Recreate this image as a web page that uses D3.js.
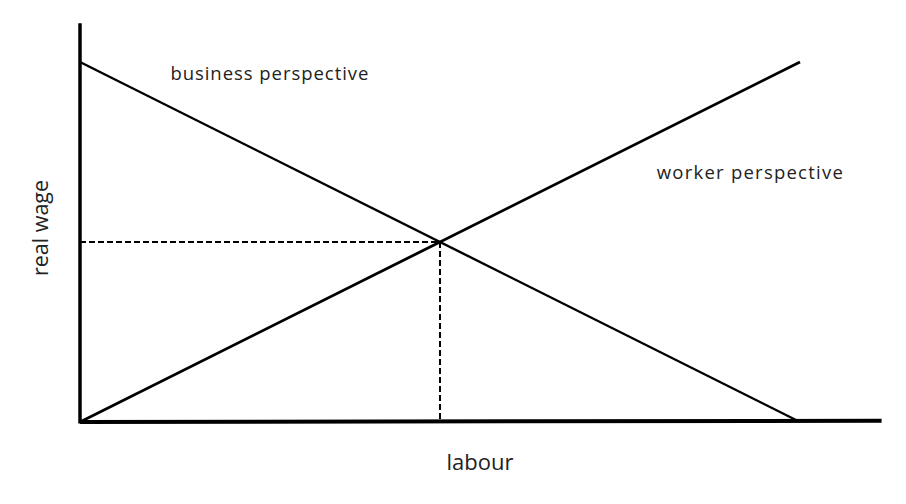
<!DOCTYPE html>
<html><head><meta charset="utf-8">
<script src="https://cdn.jsdelivr.net/npm/d3@7"></script>
<style>body{margin:0;background:#fff}svg{display:block}</style>
</head><body>
<svg id="c" width="906" height="504"></svg>
<script>
const businessLine = [[0, 90], [90, 0]];
const workerLine = [[0, 0], [90, 90]];
const equilibrium = [45, 45];
const axisLabels = {x: "labour", y: "real wage"};
const curveLabels = [
  {text: "business perspective", x: 11.3, y: 85.5, w: 198},
  {text: "worker perspective", x: 72.1, y: 60.8, w: 186}
];

const svg = d3.select("#c");
const x = d3.scaleLinear().domain([0, 100]).range([80, 880]);
const y = d3.scaleLinear().domain([0, 100]).range([422, 22]);
const line = d3.line().x(d => x(d[0])).y(d => y(d[1]));

// dashed guides
svg.append("path").attr("d", line([[0, equilibrium[1]], equilibrium]))
  .attr("fill", "none").attr("stroke", "#000").attr("stroke-width", 2).attr("stroke-dasharray", "6,3");
svg.append("path").attr("d", line([equilibrium, [equilibrium[0], 0]]))
  .attr("fill", "none").attr("stroke", "#000").attr("stroke-width", 2).attr("stroke-dasharray", "6,3");

// curves
svg.append("path").attr("d", line(businessLine)).attr("fill", "none").attr("stroke", "#000").attr("stroke-width", 2.4);
svg.append("path").attr("d", line(workerLine)).attr("fill", "none").attr("stroke", "#000").attr("stroke-width", 2.8);

// axes
svg.append("line").attr("x1", x(0)).attr("x2", x(0)).attr("y1", y(0) + 1.5).attr("y2", y(99.7))
  .attr("stroke", "#000").attr("stroke-width", 3.5);
svg.append("line").attr("x1", x(0)).attr("x2", x(100.2)).attr("y1", y(0)).attr("y2", y(0.3))
  .attr("stroke", "#000").attr("stroke-width", 4);

const font = "'Open Sans', sans-serif";
svg.selectAll("text.lab").data(curveLabels).join("text").attr("class", "lab")
  .attr("x", d => x(d.x)).attr("y", d => y(d.y))
  .attr("textLength", d => d.w).attr("lengthAdjust", "spacing")
  .attr("font-family", font).attr("font-size", 18.5).attr("fill", "#222").text(d => d.text);

svg.append("text").attr("x", 480).attr("y", 470).attr("text-anchor", "middle")
  .attr("font-family", font).attr("font-size", 22).attr("fill", "#222").text(axisLabels.x);
svg.append("text").attr("transform", "translate(48,228) rotate(-90)").attr("text-anchor", "middle")
  .attr("font-family", font).attr("font-size", 21.5).attr("fill", "#222").text(axisLabels.y);
</script>
</body></html>
